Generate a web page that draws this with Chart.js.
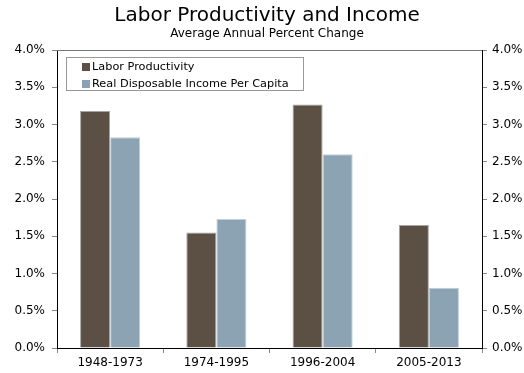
<!DOCTYPE html>
<html><head><meta charset="utf-8">
<script src="https://cdn.jsdelivr.net/npm/chart.js@4"></script>
<style>html,body{margin:0;padding:0;background:#fff}#w{width:524px;height:373px}</style>
</head><body><div id="w"><canvas id="c"></canvas></div>
<script>
const categories = ["1948-1973", "1974-1995", "1996-2004", "2005-2013"];
const laborProductivity = [3.18, 1.55, 3.27, 1.65];
const realIncomePerCapita = [2.83, 1.73, 2.60, 0.81];
const seriesNames = ["Labor Productivity", "Real Disposable Income Per Capita"];
const yTicks = [0, 0.5, 1, 1.5, 2, 2.5, 3, 3.5, 4];
const FONT = "'DejaVu Sans', Verdana, sans-serif";

const legendBox = {
  id: 'legendBox',
  afterDraw(chart) {
    const ctx = chart.ctx, a = chart.chartArea;
    const x0 = a.left + 9, y0 = a.top + 7, w = 237, h = 33;
    ctx.save();
    ctx.fillStyle = '#fff';
    ctx.fillRect(x0, y0, w, h);
    ctx.strokeStyle = '#999';
    ctx.lineWidth = 1;
    ctx.strokeRect(x0 + 0.5, y0 + 0.5, w, h);
    ctx.font = '11.3px ' + FONT;
    ctx.textBaseline = 'middle';
    chart.data.datasets.forEach((ds, i) => {
      const cy = y0 + 10 + i * 17;
      ctx.fillStyle = ds.backgroundColor;
      ctx.fillRect(x0 + 16, cy - 4, 8, 8);
      ctx.fillStyle = '#000';
      ctx.fillText(ds.label, x0 + 26, cy);
    });
    ctx.restore();
  }
};
const topLine = {
  id: 'topLine',
  afterDatasetsDraw(chart) {
    const ctx = chart.ctx, a = chart.chartArea;
    ctx.save();
    ctx.strokeStyle = '#777';
    ctx.lineWidth = 1;
    ctx.beginPath();
    ctx.moveTo(a.left, Math.round(a.top) + 0.5);
    ctx.lineTo(a.right, Math.round(a.top) + 0.5);
    ctx.stroke();
    ctx.restore();
  }
};

const yCommon = (pos) => ({
  position: pos,
  min: 0, max: 4,
  afterBuildTicks(s) { s.ticks = yTicks.map(v => ({ value: v })); },
  ticks: { callback: v => v.toFixed(1) + '%', color: '#000', font: { family: FONT, size: 12 }, padding: pos === 'left' ? 7 : 5 },
  grid: { drawOnChartArea: false, drawTicks: true, tickLength: 5, color: '#888' },
  border: { color: '#000', width: 1 },
  afterFit(s) { s.width = pos === 'left' ? 47 : 42; }
});

new Chart(document.getElementById('c'), {
  type: 'bar',
  data: {
    labels: categories,
    datasets: [
      { label: seriesNames[0], data: laborProductivity, backgroundColor: '#5c5045', borderColor: '#a9a49f', borderWidth: 1, yAxisID: 'y' },
      { label: seriesNames[1], data: realIncomePerCapita, backgroundColor: '#8ba3b3', borderColor: '#c2d0da', borderWidth: 1, yAxisID: 'y' }
    ]
  },
  options: {
    responsive: true, maintainAspectRatio: false, animation: false,
    layout: { padding: { top: 0, bottom: 0, left: 10, right: 0 } },
    categoryPercentage: 0.566, barPercentage: 1.0,
    plugins: {
      legend: { display: false },
      tooltip: { enabled: false },
      title: { display: true, text: 'Labor Productivity and Income', color: '#000', font: { family: FONT, size: 20, weight: 'normal', lineHeight: 1.2 }, padding: { top: 4, bottom: 0 } },
      subtitle: { display: true, text: 'Average Annual Percent Change', color: '#000', font: { family: FONT, size: 12, weight: 'normal', lineHeight: 1 }, padding: { top: 0, bottom: 10 } }
    },
    scales: {
      x: {
        ticks: { color: '#000', font: { family: FONT, size: 12 }, padding: 3, maxRotation: 0 },
        grid: { drawOnChartArea: false, drawTicks: true, tickLength: 5, color: '#888', offset: true },
        border: { color: '#000', width: 1 },
        afterFit(s) { s.height = 25; }
      },
      y: yCommon('left'),
      y2: yCommon('right')
    }
  },
  plugins: [legendBox, topLine]
});
</script></body></html>
